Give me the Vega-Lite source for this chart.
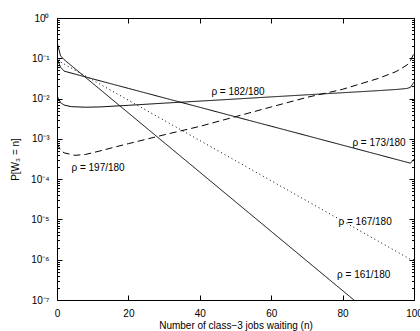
{
  "$schema": "https://vega.github.io/schema/vega-lite/v6.json",
  "width": 357,
  "height": 282,
  "autosize": {"type": "none"},
  "padding": {"left": 57, "top": 18, "right": 6, "bottom": 31},
  "background": "white",
  "datasets": {
    "curves": [
      {"rho": "161", "n": 0, "p": 0.25}, {"rho": "161", "n": 1, "p": 0.115}, {"rho": "161", "n": 2, "p": 0.0925},
      {"rho": "161", "n": 10, "p": 0.0239}, {"rho": "161", "n": 20, "p": 0.0044}, {"rho": "161", "n": 30, "p": 0.000809},
      {"rho": "161", "n": 40, "p": 0.000149}, {"rho": "161", "n": 50, "p": 0.0000274}, {"rho": "161", "n": 60, "p": 0.00000505},
      {"rho": "161", "n": 70, "p": 0.00000093}, {"rho": "161", "n": 80, "p": 0.000000171}, {"rho": "161", "n": 83, "p": 0.000000103},
      {"rho": "161", "n": 84, "p": 0.000000087},
      {"rho": "167", "n": 0, "p": 0.12}, {"rho": "167", "n": 1, "p": 0.081}, {"rho": "167", "n": 2, "p": 0.072},
      {"rho": "167", "n": 10, "p": 0.0288}, {"rho": "167", "n": 20, "p": 0.0091}, {"rho": "167", "n": 30, "p": 0.00288},
      {"rho": "167", "n": 40, "p": 0.00091}, {"rho": "167", "n": 50, "p": 0.000288}, {"rho": "167", "n": 60, "p": 0.000091},
      {"rho": "167", "n": 70, "p": 0.0000288}, {"rho": "167", "n": 80, "p": 0.0000091}, {"rho": "167", "n": 90, "p": 0.00000288},
      {"rho": "167", "n": 99, "p": 0.00000102}, {"rho": "167", "n": 100, "p": 0.000001},
      {"rho": "173", "n": 0, "p": 0.1}, {"rho": "173", "n": 1, "p": 0.06}, {"rho": "173", "n": 2, "p": 0.048},
      {"rho": "173", "n": 10, "p": 0.0308}, {"rho": "173", "n": 20, "p": 0.0179}, {"rho": "173", "n": 30, "p": 0.0104},
      {"rho": "173", "n": 40, "p": 0.00607}, {"rho": "173", "n": 50, "p": 0.00353}, {"rho": "173", "n": 60, "p": 0.00206},
      {"rho": "173", "n": 70, "p": 0.0012}, {"rho": "173", "n": 80, "p": 0.000697}, {"rho": "173", "n": 90, "p": 0.000406},
      {"rho": "173", "n": 99, "p": 0.000249}, {"rho": "173", "n": 100, "p": 0.000316},
      {"rho": "182", "n": 0, "p": 0.0117}, {"rho": "182", "n": 1, "p": 0.0079}, {"rho": "182", "n": 2, "p": 0.0069},
      {"rho": "182", "n": 4, "p": 0.0063}, {"rho": "182", "n": 8, "p": 0.0061}, {"rho": "182", "n": 12, "p": 0.0062},
      {"rho": "182", "n": 20, "p": 0.0068}, {"rho": "182", "n": 30, "p": 0.0077}, {"rho": "182", "n": 40, "p": 0.00865},
      {"rho": "182", "n": 50, "p": 0.00975}, {"rho": "182", "n": 60, "p": 0.011}, {"rho": "182", "n": 70, "p": 0.0124},
      {"rho": "182", "n": 80, "p": 0.01396}, {"rho": "182", "n": 90, "p": 0.01574}, {"rho": "182", "n": 95, "p": 0.0168},
      {"rho": "182", "n": 98, "p": 0.0178}, {"rho": "182", "n": 99, "p": 0.019}, {"rho": "182", "n": 100, "p": 0.0257},
      {"rho": "197", "n": 0, "p": 0.00079}, {"rho": "197", "n": 1, "p": 0.00052}, {"rho": "197", "n": 2, "p": 0.00045},
      {"rho": "197", "n": 5, "p": 0.00039}, {"rho": "197", "n": 8, "p": 0.00041}, {"rho": "197", "n": 12, "p": 0.0005},
      {"rho": "197", "n": 16, "p": 0.00062}, {"rho": "197", "n": 20, "p": 0.00076}, {"rho": "197", "n": 30, "p": 0.00126},
      {"rho": "197", "n": 40, "p": 0.00204}, {"rho": "197", "n": 50, "p": 0.00355}, {"rho": "197", "n": 60, "p": 0.0062},
      {"rho": "197", "n": 70, "p": 0.0107}, {"rho": "197", "n": 80, "p": 0.017}, {"rho": "197", "n": 90, "p": 0.0316},
      {"rho": "197", "n": 95, "p": 0.0468}, {"rho": "197", "n": 98, "p": 0.0676}, {"rho": "197", "n": 99, "p": 0.087},
      {"rho": "197", "n": 100, "p": 0.132}
    ],
    "labels": [
      {"label": "ρ = 182/180", "n": 50.7, "p": 0.0146},
      {"label": "ρ = 173/180", "n": 90.2, "p": 0.00079},
      {"label": "ρ = 197/180", "n": 11.5, "p": 0.00019},
      {"label": "ρ = 167/180", "n": 86.3, "p": 0.0000087},
      {"label": "ρ = 161/180", "n": 85.9, "p": 0.00000042}
    ]
  },
  "layer": [
    {
      "data": {"name": "curves"},
      "mark": {"type": "line", "color": "black", "strokeWidth": 1, "clip": true},
      "encoding": {
        "x": {
          "field": "n", "type": "quantitative",
          "scale": {"domain": [0, 100], "nice": false},
          "axis": {"orient": "bottom", "values": [0, 20, 40, 60, 80, 100], "tickSize": -5, "labelPadding": 13, "title": "Number of class−3 jobs waiting (n)", "titlePadding": 2}
        },
        "y": {
          "field": "p", "type": "quantitative",
          "scale": {"type": "log", "domain": [0.0000001, 1], "nice": false},
          "axis": {
            "orient": "left",
            "values": [1e-7,2e-7,3e-7,4e-7,5e-7,6e-7,7e-7,8e-7,9e-7,1e-6,2e-6,3e-6,4e-6,5e-6,6e-6,7e-6,8e-6,9e-6,1e-5,2e-5,3e-5,4e-5,5e-5,6e-5,7e-5,8e-5,9e-5,1e-4,2e-4,3e-4,4e-4,5e-4,6e-4,7e-4,8e-4,9e-4,1e-3,2e-3,3e-3,4e-3,5e-3,6e-3,7e-3,8e-3,9e-3,0.01,0.02,0.03,0.04,0.05,0.06,0.07,0.08,0.09,0.1,0.2,0.3,0.4,0.5,0.6,0.7,0.8,0.9,1],
            "labelExpr": "abs(log(datum.value)/LN10 - round(log(datum.value)/LN10)) < 0.001 ? ['10⁻⁷','10⁻⁶','10⁻⁵','10⁻⁴','10⁻³','10⁻²','10⁻¹','10⁰'][round(log(datum.value)/LN10)+7] : ''",
            "tickSize": {"condition": {"test": "abs(log(datum.value)/LN10 - round(log(datum.value)/LN10)) < 0.001", "value": -5}, "value": -2.5},
            "labelPadding": 13,
            "title": "P[W₃ = n]",
            "titlePadding": 10
          }
        },
        "detail": {"field": "rho"},
        "strokeDash": {
          "field": "rho", "type": "nominal", "legend": null,
          "scale": {"domain": ["161", "167", "173", "182", "197"], "range": [[1, 0], [1, 3], [1, 0], [1, 0], [7, 4]]}
        }
      }
    },
    {
      "data": {"name": "labels"},
      "mark": {"type": "text", "color": "black", "font": "Liberation Sans", "fontSize": 10, "align": "center", "baseline": "middle"},
      "encoding": {
        "x": {"field": "n", "type": "quantitative", "axis": {"orient": "top", "values": [0, 20, 40, 60, 80, 100], "labels": false, "title": null, "tickSize": -5}},
        "y": {"field": "p", "type": "quantitative",
          "axis": {"orient": "right", "labels": false, "title": null,
            "values": [1e-7,2e-7,3e-7,4e-7,5e-7,6e-7,7e-7,8e-7,9e-7,1e-6,2e-6,3e-6,4e-6,5e-6,6e-6,7e-6,8e-6,9e-6,1e-5,2e-5,3e-5,4e-5,5e-5,6e-5,7e-5,8e-5,9e-5,1e-4,2e-4,3e-4,4e-4,5e-4,6e-4,7e-4,8e-4,9e-4,1e-3,2e-3,3e-3,4e-3,5e-3,6e-3,7e-3,8e-3,9e-3,0.01,0.02,0.03,0.04,0.05,0.06,0.07,0.08,0.09,0.1,0.2,0.3,0.4,0.5,0.6,0.7,0.8,0.9,1],
            "tickSize": {"condition": {"test": "abs(log(datum.value)/LN10 - round(log(datum.value)/LN10)) < 0.001", "value": -5}, "value": -2.5}
          }
        },
        "text": {"field": "label"}
      }
    }
  ],
  "resolve": {"axis": {"x": "independent", "y": "independent"}},
  "config": {
    "view": {"stroke": null},
    "axis": {
      "grid": false,
      "domainColor": "black",
      "domainWidth": 1,
      "tickColor": "black",
      "tickWidth": 1,
      "labelColor": "black",
      "labelFont": "Liberation Sans",
      "labelFontSize": 10,
      "titleFont": "Liberation Sans",
      "titleFontSize": 10,
      "titleFontWeight": "normal",
      "titleColor": "black",
      "labelOverlap": false,
      "labelFlush": false
    }
  }
}
